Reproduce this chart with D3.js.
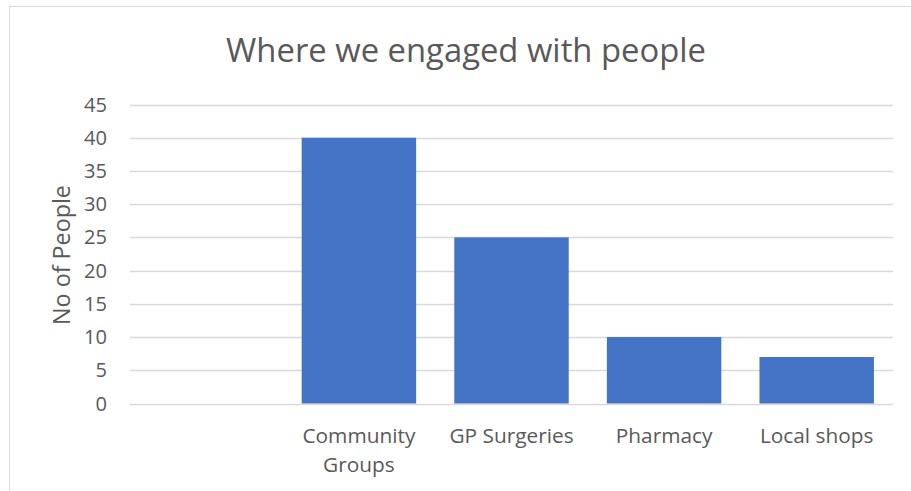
<!DOCTYPE html>
<html><head><meta charset="utf-8">
<script src="https://cdn.jsdelivr.net/npm/d3@7"></script>
<style>body{margin:0;background:#fff;} svg{display:block;}</style>
</head><body>
<svg id="chart" width="911" height="491"></svg>
<script>
const categories = ["", "Community Groups", "GP Surgeries", "Pharmacy", "Local shops"];
const values = [null, 40, 25, 10, 7];
const yTicks = [0, 5, 10, 15, 20, 25, 30, 35, 40, 45];
const title = "Where we engaged with people";
const yTitle = "No of People";

(function () {
const svg = d3.select("#chart");
const font = "'Open Sans', 'Noto Sans', sans-serif";
const textColor = "#595959";

function fitSize(str, targetW, base) {
  const tmp = svg.append("text").attr("font-family", font).attr("font-size", base).text(str);
  const w = tmp.node().getComputedTextLength();
  tmp.remove();
  return base * targetW / w;
}
const catSize = fitSize("Community", 113, 18);
const tickSize = Math.min(21, fitSize("45", 23, 18));
const yTitleSize = fitSize(yTitle, 140, 20);

// border
svg.append("rect").attr("x", 9.5).attr("y", 6.5).attr("width", 950).attr("height", 600)
  .attr("fill", "#fff").attr("stroke", "#d9d9d9").attr("stroke-width", 1);

const pLeft = 130, pRight = 893, pTop = 104.5, pBottom = 403.5;
const x = d3.scaleBand().domain(categories.map((c, i) => i)).range([pLeft, pRight])
  .paddingInner(0.25).paddingOuter(0.125);
const y = d3.scaleLinear().domain([0, 45]).range([pBottom, pTop]);

// gridlines
svg.append("g").selectAll("line").data(yTicks).join("line")
  .attr("x1", pLeft).attr("x2", pRight)
  .attr("y1", d => Math.round(y(d)) + 0.5).attr("y2", d => Math.round(y(d)) + 0.5)
  .attr("stroke", "#d9d9d9").attr("stroke-width", 1.3);

// bars
svg.append("g").selectAll("rect").data(values.map((v, i) => ({v, i})).filter(d => d.v != null)).join("rect")
  .attr("x", d => x(d.i)).attr("width", x.bandwidth())
  .attr("y", d => y(d.v)).attr("height", d => y(0) - y(d.v))
  .attr("fill", "#4472c4");

// y tick labels
svg.append("g").selectAll("text").data(yTicks).join("text")
  .attr("x", 107).attr("y", d => y(d)).attr("dy", "0.35em")
  .attr("text-anchor", "end").attr("font-family", font).attr("font-size", tickSize)
  .attr("fill", textColor).text(d => d);

// category labels
const lines = {"Community Groups": ["Community", "Groups"]};
categories.forEach((c, i) => {
  if (!c) return;
  const ls = lines[c] || [c];
  ls.forEach((l, j) => {
    svg.append("text").attr("x", x(i) + x.bandwidth() / 2).attr("y", 443 + j * 29)
      .attr("text-anchor", "middle").attr("font-family", font).attr("font-size", catSize)
      .attr("fill", textColor).text(l);
  });
});

// y title
svg.append("text").attr("transform", "translate(70,255) rotate(-90)")
  .attr("text-anchor", "middle").attr("font-family", font).attr("font-size", yTitleSize)
  .attr("fill", textColor).text(yTitle);

// title
const t = svg.append("text").attr("x", 466).attr("y", 62)
  .attr("text-anchor", "middle").attr("font-family", font).attr("font-size", 28)
  .attr("font-weight", 400).attr("fill", textColor).text(title);
const w = t.node().getComputedTextLength();
t.attr("font-size", 28 * 480 / w);
})();
</script>
</body></html>
